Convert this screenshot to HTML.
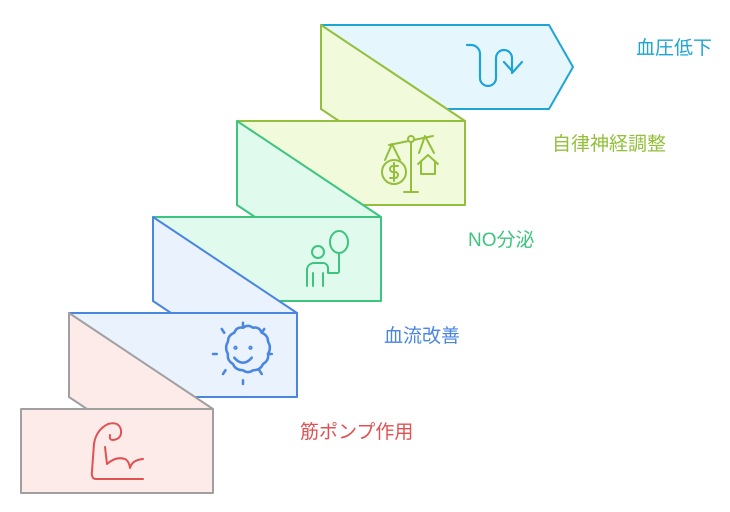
<!DOCTYPE html>
<html><head><meta charset="utf-8"><style>
body{margin:0;background:#fff;width:730px;height:512px;overflow:hidden}
svg{display:block}
text{font-family:"Liberation Sans","Noto Sans CJK JP",sans-serif;font-size:19px}
</style></head><body>
<svg width="730" height="512" viewBox="0 0 730 512" fill="none" stroke-linejoin="round" stroke-linecap="round">
<polygon points="321,25 549,25 573,67 549,109 321,109" fill="#e5f7fd" stroke="#1ea5d6" stroke-width="2"/>
<path d="M467,45 h4 a9,9 0 0 1 9,9 v24 a8,8 0 0 0 16,0 v-20 a8,8 0 0 1 16,0 v15 M522,62 l-9,10 -9,-10" stroke="#1ea5d6" stroke-width="2.2"/>
<polygon points="321,25 465,121 339,121 321,109" fill="#f1fbdc" stroke="#93bf3c" stroke-width="2"/>
<rect x="237" y="121" width="228" height="84" fill="#f1fbdc" stroke="#93bf3c" stroke-width="2"/>
<g stroke="#93bf3c" stroke-width="2">
<path d="M389,145 L433,136 M411,141 V192 M404,192 H418"/>
<circle cx="411" cy="139" r="3" fill="#f1fbdc"/>
<path d="M392,144 L385,160 M392,144 L400,160 M425,136 L419,153 M425,136 L434,153"/>
<circle cx="394" cy="172" r="12"/>
<path d="M398,166 h-5 a3,3 0 0 0 0,6 h2 a3,3 0 0 1 0,6 h-5 M394,163 v18"/>
<path d="M418,164 L428,155 L438,164 M421,162 V174 H435 V162"/>
</g>
<polygon points="237,121 381,217 255,217 237,205" fill="#e0fbee" stroke="#3ec47f" stroke-width="2"/>
<rect x="153" y="217" width="228" height="84" fill="#e0fbee" stroke="#3ec47f" stroke-width="2"/>
<g stroke="#3ec47f" stroke-width="2">
<circle cx="318" cy="252" r="6"/>
<path d="M307,286 V270 a7,7 0 0 1 7,-7 h9 a5,5 0 0 1 5,5 v5 h10 M313,286 V273 M323,273 V286"/>
<ellipse cx="339" cy="242" rx="9" ry="11"/>
<path d="M339,253 V272"/>
</g>
<polygon points="153,217 297,313 171,313 153,301" fill="#eaf2fe" stroke="#4a86e0" stroke-width="2"/>
<rect x="69" y="313" width="228" height="84" fill="#eaf2fe" stroke="#4a86e0" stroke-width="2"/>
<g stroke="#4a86e0" stroke-width="2" transform="translate(243,354) scale(1.25) translate(-243,-354)">
<path d="M243,333 q4,-3 8,0 q5,-1 7,4 q5,2 5,7 q3,5 0,10 q1,5 -4,8 q-2,5 -8,5 q-4,3 -8,0 q-6,0 -8,-5 q-5,-3 -4,-8 q-3,-5 0,-10 q0,-5 5,-7 q2,-5 7,-4z"/>
<path d="M243,333 V329 M258,337 l2,-3 M263,354 h3 M256,367 l2,3 M243,375 v3 M229,367 l-2,3 M222,354 h-3 M228,337 l-2,-3" />
<path d="M236,357 q7,8 14,0"/><circle cx="237" cy="349" r="0.7"/><circle cx="249" cy="349" r="0.7"/>
</g>
<polygon points="69,313 213,409 87,409 69,397" fill="#fdebea" stroke="#a0a0a0" stroke-width="2"/>
<rect x="21" y="409" width="192" height="84" fill="#fdebea" stroke="#a0a0a0" stroke-width="2"/>
<path d="M143,479 H96 q-5,0 -4,-8 L94,444 q2,-14 14,-20 q11,-3 13,6 q1,9 -8,10 q-4,0 -3,-5 M105,447 L107,464 q9,-8 18,-5 q4,2 5,9 q2,-8 13,-9" stroke="#e05252" stroke-width="2"/>
<text x="636" y="54" fill="#1ea5d6">血圧低下</text>
<text x="552" y="150" fill="#93bf3c">自律神経調整</text>
<text x="468" y="246" fill="#3ec47f">NO分泌</text>
<text x="384" y="342" fill="#4a86e0">血流改善</text>
<text x="300" y="438" fill="#e05252">筋ポンプ作用</text>
</svg>
</body></html>
